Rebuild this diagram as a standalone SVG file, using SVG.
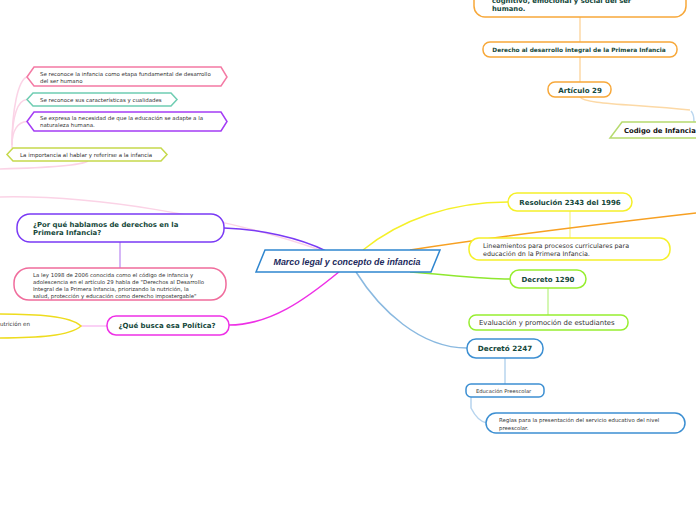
<svg xmlns="http://www.w3.org/2000/svg" width="696" height="520" viewBox="0 0 696 520">
<style>
.t{font-family:"DejaVu Sans",Verdana,sans-serif;fill:#333;}
.b{font-family:"DejaVu Sans",Verdana,sans-serif;font-weight:bold;fill:#14473a;}
.n{fill:#fff;stroke-width:1.5;}
.c{fill:none;stroke-width:1.5;}
</style>
<rect width="696" height="520" fill="#fff"/>
<g id="connectors">
<path class="c" d="M320 250 C220 215 90 195 0 197" stroke="#fbd3e6"/>
<path class="c" d="M88 161 C80 166 40 168 0 169" stroke="#fbd3e6"/>
<path class="c" d="M12 145 C12 110 18 80 27 77" stroke="#fbd3e6" stroke-width="1"/>
<path class="c" d="M12 145 C12 115 18 100 27 99.5" stroke="#fbd3e6" stroke-width="1"/>
<path class="c" d="M12 145 C12 130 18 122 27 121.5" stroke="#fbd3e6" stroke-width="1"/>
<path class="c" d="M12 145 L12 148" stroke="#fbd3e6" stroke-width="1"/>
<path class="c" d="M326 251 C300 238 260 229 224 228" stroke="#7a3af5"/>
<path class="c" d="M120 242 L120 268" stroke="#c79ef5" stroke-width="1"/>
<path class="c" d="M340 271 C305 300 270 325 229 325" stroke="#ee30e6"/>
<path class="c" d="M107 326 L81 326" stroke="#f8c2f2"/>
<path class="c" d="M363 250 C400 220 450 202 508 202" stroke="#f5f02a"/>
<path class="c" d="M570 211 L570 238" stroke="#f8f49a" stroke-width="1"/>
<path class="c" d="M410 250 C500 236 600 224 696 213" stroke="#f7a022" stroke-width="2"/>
<path class="c" d="M410 272 C450 275 480 279 510 279" stroke="#8fe82e"/>
<path class="c" d="M548 288 L548 315" stroke="#c6f59a" stroke-width="1"/>
<path class="c" d="M356 272 C380 310 420 348 467 348" stroke="#8ab9e0"/>
<path class="c" d="M505 358 L505 384" stroke="#b7d4ee" stroke-width="1"/>
<path class="c" d="M471 397 L471 408 C474 414 480 422 487 423" stroke="#b7d4ee" stroke-width="1"/>
<path class="c" d="M580 17 L580 42" stroke="#fcd9a6" stroke-width="1"/>
<path class="c" d="M580 57 L580 82" stroke="#fcd9a6" stroke-width="1"/>
<path class="c" d="M580 97 C584 104 630 104 690 110" stroke="#fcd9a6" stroke-width="1"/>
<path class="c" d="M691 111 C693 113 694 116 694 122" stroke="#bcd7ef" stroke-width="1"/>
</g>
<g id="center">
<polygon class="n" points="265,250 440,250 431,272 256,272" stroke="#2f86cf" fill="#fff" stroke-width="1"/>
<text x="347" y="264.5" text-anchor="middle" font-family="'Liberation Sans',Arial,sans-serif" font-weight="bold" font-style="italic" font-size="8.9" fill="#1c2a5c">Marco legal y concepto de infancia</text>
</g>
<g id="n-top">
<rect class="n" x="474" y="-30" width="212" height="47" rx="11" stroke="#f7a83a"/>
<text class="b" x="492" y="2.5" font-size="6.8">cognitivo, emocional y social del ser</text>
<text class="b" x="492" y="10.5" font-size="6.8">humano.</text>
</g>
<g id="n-derecho">
<rect class="n" x="483" y="42" width="194" height="15" rx="7" stroke="#f7a83a"/>
<text class="b" x="579" y="52" font-size="5.85" text-anchor="middle">Derecho al desarrollo integral de la Primera Infancia</text>
</g>
<g id="n-articulo">
<rect class="n" x="548" y="82" width="63" height="15" rx="7" stroke="#f7a83a"/>
<text class="b" x="580" y="92.5" font-size="7.1" text-anchor="middle">Artículo 29</text>
</g>
<g id="n-codigo">
<polygon class="n" points="622,122 710,122 698,138 610,138" stroke="#b6da6e"/>
<text x="624" y="133" font-family="'DejaVu Sans',Verdana,sans-serif" font-weight="bold" font-size="6.85" fill="#111">Codigo de Infancia</text>
</g>
<g id="n-resolucion">
<rect class="n" x="508" y="193" width="124" height="18" rx="9" stroke="#f5f02a"/>
<text class="b" x="570" y="205" font-size="7" text-anchor="middle">Resolución 2343 del 1996</text>
</g>
<g id="n-lineamientos">
<rect class="n" x="469" y="238" width="201" height="22" rx="10" stroke="#f5f02a"/>
<text class="t" x="483" y="247.5" font-size="6.4">Lineamientos para procesos curriculares para</text>
<text class="t" x="483" y="255.5" font-size="6.4">educación dn la Primera Infancia.</text>
</g>
<g id="n-decreto1290">
<rect class="n" x="510" y="270" width="76" height="18" rx="9" stroke="#97ee30"/>
<text class="b" x="548" y="282" font-size="7" text-anchor="middle">Decreto 1290</text>
</g>
<g id="n-evaluacion">
<rect class="n" x="469" y="315" width="159" height="15" rx="7" stroke="#97ee30"/>
<text class="t" x="479" y="325" font-size="6.9">Evaluación y promoción de estudiantes</text>
</g>
<g id="n-decreto2247">
<rect class="n" x="467" y="339" width="76" height="19" rx="9" stroke="#3c8fd2"/>
<text class="b" x="505" y="351" font-size="7.2" text-anchor="middle">Decretó 2247</text>
</g>
<g id="n-preescolar">
<rect class="n" x="466" y="384" width="78" height="13" rx="5" stroke="#3c8fd2"/>
<text class="t" x="476" y="393" font-size="5.2">Educación Preescolar</text>
</g>
<g id="n-reglas">
<rect class="n" x="486" y="413" width="199" height="20" rx="10" stroke="#3c8fd2"/>
<text class="t" x="499" y="421.5" font-size="5.4">Reglas para la presentación del servicio educativo del nivel</text>
<text class="t" x="499" y="429.5" font-size="5.4">preescolar.</text>
</g>
<g id="n-porque">
<rect class="n" x="17" y="214" width="207" height="28" rx="13" stroke="#7a3af5"/>
<text class="b" x="33" y="226.5" font-size="6.9">¿Por qué hablamos de derechos en la</text>
<text class="b" x="33" y="235" font-size="6.9">Primera Infancia?</text>
</g>
<g id="n-ley">
<rect class="n" x="14" y="268" width="212" height="32" rx="15" stroke="#f06c9c"/>
<text class="t" x="33" y="277" font-size="5.4">La ley 1098 de 2006 conocida como el código de infancia y</text>
<text class="t" x="33" y="284" font-size="5.4">adolescencia en el artículo 29 habla de "Derechos al Desarrollo</text>
<text class="t" x="33" y="291" font-size="5.4">Integral de la Primera Infancia, priorizando la nutrición, la</text>
<text class="t" x="33" y="298" font-size="5.4">salud, protección y educación como derecho impostergable"</text>
</g>
<g id="n-quebusca">
<rect class="n" x="107" y="316" width="122" height="19" rx="9" stroke="#ee30e6"/>
<text class="b" x="167" y="328" font-size="7" text-anchor="middle">¿Qué busca esa Política?</text>
</g>
<g id="n-nutricion">
<path class="n" d="M81 326 C70 316 40 314 -10 314 L-10 338 C40 338 70 336 81 326 Z" stroke="#eedc1e"/>
<text class="t" x="0" y="325.5" font-size="5.6">utrición en</text>
</g>
<g id="n-s1">
<polygon class="n" points="27,77 34,67 221,67 227,77 221,86 34,86" stroke="#f47aa4"/>
<text class="t" x="40" y="75.5" font-size="5.45">Se reconoce la infancia como etapa fundamental de desarrollo</text>
<text class="t" x="40" y="82.5" font-size="5.45">del ser humano</text>
</g>
<g id="n-s2">
<polygon class="n" points="27,99.5 33,93 171,93 177,99.5 171,106 33,106" stroke="#6fcdb2"/>
<text class="t" x="40" y="101.8" font-size="5.45">Se reconoce sus características y cualidades</text>
</g>
<g id="n-s3">
<polygon class="n" points="27,121.5 34,112 221,112 227,121.5 221,131 34,131" stroke="#a43cf5"/>
<text class="t" x="40" y="120" font-size="5.45">Se expresa la necesidad de que la educación se adapte a la</text>
<text class="t" x="40" y="127" font-size="5.45">naturaleza humana.</text>
</g>
<g id="n-s4">
<polygon class="n" points="7,154.5 13,148 161,148 167,154.5 161,161 13,161" stroke="#c6d94c"/>
<text class="t" x="20" y="156.8" font-size="5.5">La importancia al hablar y referirse a la infancia</text>
</g>
</svg>
